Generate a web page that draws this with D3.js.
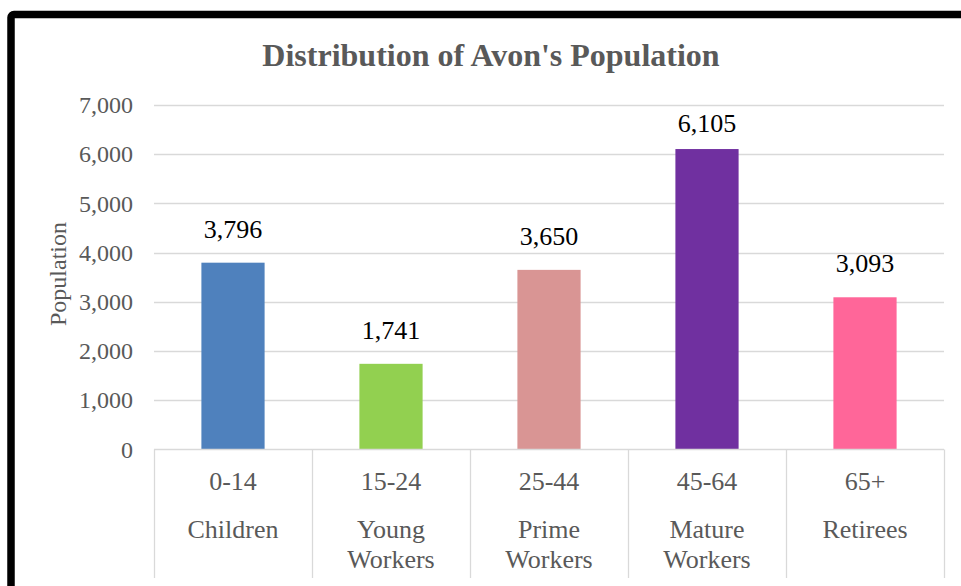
<!DOCTYPE html>
<html>
<head>
<meta charset="utf-8">
<script src="https://cdn.jsdelivr.net/npm/d3@7"></script>
<style>
  html, body { margin: 0; padding: 0; background: #fff; }
  svg { display: block; }
</style>
</head>
<body>
<div id="chart"></div>
<script>
const ageGroups = ["0-14", "15-24", "25-44", "45-64", "65+"];
const groupNames = [["Children"], ["Young", "Workers"], ["Prime", "Workers"], ["Mature", "Workers"], ["Retirees"]];
const population = [3796, 1741, 3650, 6105, 3093];
const barColors = ["#4f81bd", "#92d050", "#d99594", "#7030a0", "#ff6699"];
const yTicks = [0, 1000, 2000, 3000, 4000, 5000, 6000, 7000];
const titleText = "Distribution of Avon's Population";
const yTitle = "Population";

const W = 961, H = 586;
const svg = d3.select("#chart").append("svg").attr("width", W).attr("height", H);
const serif = "'Liberation Serif', 'Times New Roman', serif";
const grey = "#595959";
const lineGrey = "#d9d9d9";

// frame
svg.append("rect")
  .attr("x", 11).attr("y", 14.5)
  .attr("width", 1200).attr("height", 1200)
  .attr("rx", 3)
  .attr("fill", "none").attr("stroke", "#000").attr("stroke-width", 7.5);

const plotL = 154, plotR = 944, plotT = 105, plotB = 449.5;

const x = d3.scaleBand().domain(ageGroups).range([plotL, plotR]).paddingInner(0).paddingOuter(0);
const y = d3.scaleLinear().domain([0, 7000]).range([plotB, plotT]);

// title
svg.append("text")
  .attr("x", 491).attr("y", 66)
  .attr("text-anchor", "middle")
  .attr("font-family", serif).attr("font-weight", "bold")
  .attr("font-size", 32).attr("fill", grey)
  .text(titleText);

// gridlines
svg.append("g").selectAll("line").data(yTicks.filter(d => d > 0)).join("line")
  .attr("x1", plotL).attr("x2", plotR)
  .attr("y1", d => Math.round(y(d)) + 0.5).attr("y2", d => Math.round(y(d)) + 0.5)
  .attr("stroke", lineGrey).attr("stroke-width", 1.3);

// y axis tick labels
const yAxis = d3.axisLeft(y).tickValues(yTicks).tickSize(0).tickPadding(0)
  .tickFormat(d3.format(","));
const gy = svg.append("g").attr("transform", `translate(133,0)`).call(yAxis);
gy.select(".domain").remove();
gy.selectAll("text")
  .attr("font-family", serif).attr("font-size", 24).attr("fill", grey)
  .attr("dy", "0.32em");

// y axis title
svg.append("text")
  .attr("transform", "translate(66,274) rotate(-90)")
  .attr("text-anchor", "middle")
  .attr("font-family", serif).attr("font-size", 24).attr("fill", grey)
  .text(yTitle);

// bars
const bw = x.bandwidth() * 0.4;
svg.append("g").selectAll("rect").data(population).join("rect")
  .attr("x", (d, i) => x(ageGroups[i]) + (x.bandwidth() - bw) / 2)
  .attr("y", d => y(d))
  .attr("width", bw)
  .attr("height", d => plotB - y(d))
  .attr("fill", (d, i) => barColors[i]);

// data labels
svg.append("g").selectAll("text").data(population).join("text")
  .attr("x", (d, i) => x(ageGroups[i]) + x.bandwidth() / 2)
  .attr("y", d => Math.max(y(d) - 25, plotT + 27))
  .attr("text-anchor", "middle")
  .attr("font-family", serif).attr("font-size", 26).attr("fill", "#000")
  .text(d => d3.format(",")(d));

// category axis: baseline and separators
svg.append("line")
  .attr("x1", plotL).attr("x2", plotR)
  .attr("y1", plotB).attr("y2", plotB)
  .attr("stroke", lineGrey).attr("stroke-width", 1.3);
const edges = ageGroups.map(g => x(g)).concat([plotR]);
svg.append("g").selectAll("line").data(edges).join("line")
  .attr("x1", d => Math.round(d) + 0.5).attr("x2", d => Math.round(d) + 0.5)
  .attr("y1", plotB).attr("y2", 578)
  .attr("stroke", lineGrey).attr("stroke-width", 1.3);

// category labels
const cat = svg.append("g").selectAll("g").data(ageGroups).join("g")
  .attr("transform", d => `translate(${x(d) + x.bandwidth() / 2},0)`);
cat.append("text")
  .attr("y", 490)
  .attr("text-anchor", "middle")
  .attr("font-family", serif).attr("font-size", 26).attr("fill", grey)
  .text(d => d);
cat.each(function(d, i) {
  const g = d3.select(this);
  groupNames[i].forEach((ln, j) => {
    g.append("text")
      .attr("y", 538 + j * 30)
      .attr("text-anchor", "middle")
      .attr("font-family", serif).attr("font-size", 26).attr("fill", grey)
      .text(ln);
  });
});
</script>
</body>
</html>
